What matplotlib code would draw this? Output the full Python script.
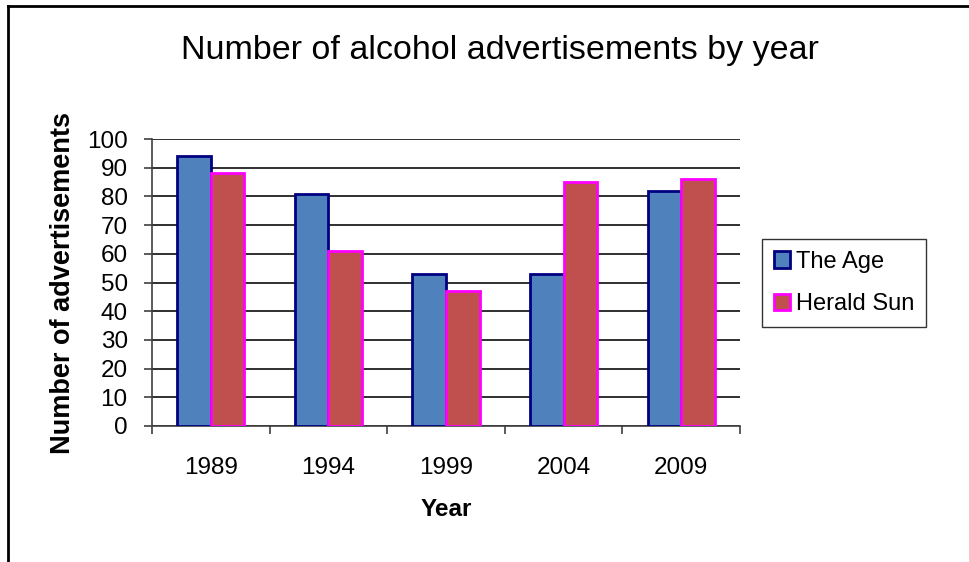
import matplotlib
matplotlib.use("Agg")
import matplotlib.pyplot as plt
import numpy as np

years = ["1989", "1994", "1999", "2004", "2009"]
the_age = [94, 81, 53, 53, 82]
herald_sun = [88, 61, 47, 85, 86]
yticks = [0, 10, 20, 30, 40, 50, 60, 70, 80, 90, 100]

plt.rcParams['font.family'] = ['Liberation Sans', 'DejaVu Sans']

fig = plt.figure(figsize=(9.7, 5.62), dpi=100)
W, H = 970, 562
ax = fig.add_axes([152 / W, 1 - 426 / H, (740 - 152) / W, (426 - 139) / H])

x = np.arange(len(years))
w = 1 / 3.5
ax.bar(x - w / 2, the_age, width=w, color="#4F81BD", edgecolor="#000080", linewidth=2, label="The Age", zorder=3)
ax.bar(x + w / 2, herald_sun, width=w, color="#C0504D", edgecolor="#FF00FF", linewidth=2, label="Herald Sun", zorder=3)

ax.set_xlim(-0.5, len(years) - 0.5)
ax.set_ylim(0, 100)
ax.set_yticks(yticks)
ax.set_yticklabels([str(v) for v in yticks], fontsize=17.5)
ax.yaxis.grid(True, color="#202020", linewidth=1.3, zorder=0)
ax.set_axisbelow(True)
ax.set_xticks(x)
ax.set_xticklabels(years, fontsize=17.5)
ax.tick_params(axis='x', length=0, pad=22)
ax.set_xticks(np.arange(-0.5, len(years)), minor=True)
ax.tick_params(axis='x', which='minor', length=6, width=1.2, color="#404040")
ax.tick_params(axis='y', length=5.5, width=1.2, color="#404040", pad=12)
for s in ["top", "right"]:
    ax.spines[s].set_visible(False)
for s in ["left", "bottom"]:
    ax.spines[s].set_color("#404040")
    ax.spines[s].set_linewidth(1.2)

ax.set_ylabel("Number of advertisements", fontsize=19.5, fontweight="bold", labelpad=8)
ax.set_xlabel("Year", fontsize=17.5, fontweight="bold", labelpad=14)

fig.text(500 / W, 1 - 51 / H, "Number of alcohol advertisements by year", fontsize=24.5,
         ha="center", va="center")

leg = ax.legend(loc="center left", bbox_to_anchor=(762 / W, 1 - 283 / H), bbox_transform=fig.transFigure,
                fontsize=17, frameon=True, fancybox=False, edgecolor="black",
                handlelength=0.7, handleheight=0.7, handletextpad=0.25, labelspacing=0.85,
                borderpad=0.5, borderaxespad=0)
leg.get_frame().set_linewidth(1.0)

# outer border (top and left)
fig.add_artist(plt.Line2D([8 / W, 8 / W], [0, 1 - 6 / H], transform=fig.transFigure, color="black", linewidth=2))
fig.add_artist(plt.Line2D([8 / W, 1], [1 - 6 / H, 1 - 6 / H], transform=fig.transFigure, color="black", linewidth=2))

fig.savefig("out.png", dpi=100)
